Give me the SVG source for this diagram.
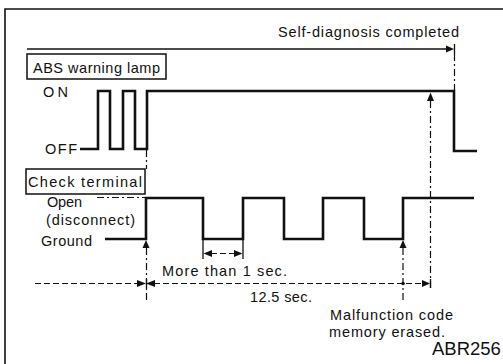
<svg xmlns="http://www.w3.org/2000/svg" width="503" height="364" viewBox="0 0 503 364">
<defs>
<style>
text{font-family:"Liberation Sans",Arial,sans-serif;font-size:14.5px;fill:#111}
.frame{fill:none;stroke:#111;stroke-width:1.6}
.wave{fill:none;stroke:#111;stroke-width:2.6;stroke-linejoin:miter}
.thin{fill:none;stroke:#111;stroke-width:1.3}
.dd{fill:none;stroke:#111;stroke-width:1.2;stroke-dasharray:7 3 2 3}
.ds{fill:none;stroke:#111;stroke-width:1.2;stroke-dasharray:6 3}
.box{fill:#fff;stroke:#111;stroke-width:1.5}
.ah{fill:#111;stroke:none}
</style>
</defs>
<rect width="503" height="364" fill="#fff"/>
<g id="frame">
<path class="frame" d="M5,364 V9 H503"/>
</g>
<g id="self-diagnosis">
<text x="278" y="37" textLength="181" lengthAdjust="spacing">Self-diagnosis completed</text>
<path class="thin" d="M27,49 H447"/>
<path class="ah" d="M446,45.5 L454,49 L446,52.5 Z"/>
<path class="thin" d="M454.5,44 V54"/>
<path class="dd" d="M454.5,54 V90"/>
</g>
<g id="abs-lamp">
<rect class="box" x="27" y="54" width="139" height="25"/>
<text x="33" y="72.5" textLength="127" lengthAdjust="spacing">ABS warning lamp</text>
<text x="43" y="96.5" textLength="25" lengthAdjust="spacing">ON</text>
<text x="45" y="153.5" textLength="32" lengthAdjust="spacing">OFF</text>
<path class="wave" d="M80,149 H98 V91 H110 V149 H123 V91 H135 V149 H147 V91 H454 V151 H477"/>
</g>
<g id="check-terminal">
<rect class="box" x="26" y="169" width="119" height="25"/>
<text x="28" y="186.5" textLength="114" lengthAdjust="spacing">Check terminal</text>
<text x="47" y="207" textLength="35" lengthAdjust="spacing">Open</text>
<text x="46" y="224.5" textLength="89" lengthAdjust="spacing">(disconnect)</text>
<text x="41" y="245.5" textLength="51" lengthAdjust="spacing">Ground</text>
<path class="dd" d="M97,197.5 H145"/>
<path class="wave" d="M105,239 H146 V198 H203 V239 H243 V198 H284 V239 H323 V198 H364 V239 H403 V198 H474"/>
</g>
<g id="connectors">
<path class="dd" d="M146.5,150 V169"/>
<path class="dd" d="M146.5,248 V300"/>
<path class="ah" d="M146,240 L149.5,248 L142.5,248 Z"/>
<path class="dd" d="M430.5,101 V290"/>
<path class="ah" d="M430.5,92.5 L434,101 L427,101 Z"/>
<path class="dd" d="M403,248 V303"/>
<path class="ah" d="M403,240 L406.5,248 L399.5,248 Z"/>
<circle class="ah" cx="403" cy="283.5" r="1.8"/>
<path class="thin" d="M203,240 V259 M243,240 V259"/>
<path class="ds" d="M211,253.5 H235"/>
<path class="ah" d="M203.5,253.5 L212,250 L212,257 Z M242.5,253.5 L234,250 L234,257 Z"/>
<text x="162" y="275.5" textLength="125" lengthAdjust="spacing">More than 1 sec.</text>
<path class="ds" d="M35,283.5 H138 M154,283.5 H422"/>
<path class="ah" d="M137,280 L146,283.5 L137,287 Z M155,280 L146,283.5 L155,287 Z M422,280 L430,283.5 L422,287 Z"/>
<path class="thin" d="M146.5,279 V288 M430.5,279 V288"/>
<text x="250" y="301.5" textLength="62" lengthAdjust="spacing">12.5 sec.</text>
<text x="330" y="319.5" textLength="123" lengthAdjust="spacing">Malfunction code</text>
<text x="329" y="337" textLength="116" lengthAdjust="spacing">memory erased.</text>
</g>
<g id="figure-id">
<text x="432" y="355" style="font-size:18.5px">ABR256</text>
</g>
</svg>
